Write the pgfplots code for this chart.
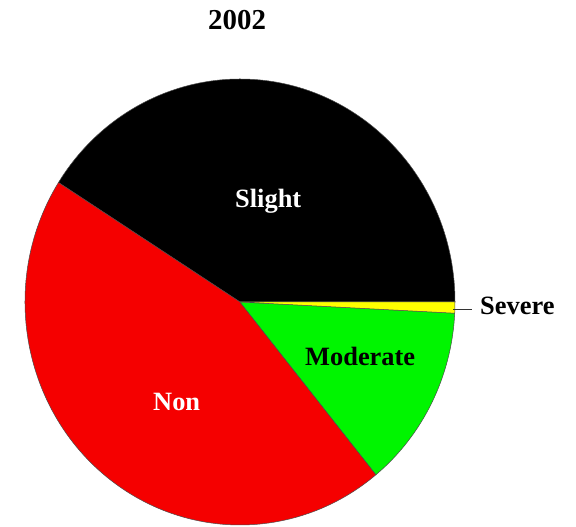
\documentclass[border=0pt]{standalone}
\usepackage{pgfplots}
\pgfplotsset{compat=1.18}
\usepackage{fontspec}
\setmainfont{Liberation Serif}
\definecolor{sl}{RGB}{0,0,0}
\definecolor{no}{RGB}{245,0,0}
\definecolor{mo}{RGB}{0,245,0}
\definecolor{se}{RGB}{255,255,0}
\begin{document}
\begin{tikzpicture}
% shares in percent, counter-clockwise from 3 o'clock
\pgfmathsetmacro\aA{0}
\pgfmathsetmacro\aB{\aA+41.0*3.6}% Slight
\pgfmathsetmacro\aC{\aB+44.9*3.6}% Non
\pgfmathsetmacro\aD{\aC+13.3*3.6}% Moderate
\pgfmathsetmacro\aE{\aD+0.8*3.6}% Severe
\begin{axis}[
    name=ax,
    width=576bp, height=527bp, scale only axis,
    xmin=0, xmax=576, ymin=0, ymax=527,
    hide axis, clip=false,
    ]
    \filldraw[fill=sl, draw=black!70, line width=0.5bp] (axis cs:240,225) -- ++(\aA:215bp and 223bp)
        arc[start angle=\aA, end angle=\aB, x radius=215bp, y radius=223bp] -- cycle;
    \filldraw[fill=no, draw=black!70, line width=0.5bp] (axis cs:240,225) -- ++(\aB:215bp and 223bp)
        arc[start angle=\aB, end angle=\aC, x radius=215bp, y radius=223bp] -- cycle;
    \filldraw[fill=mo, draw=black!70, line width=0.5bp] (axis cs:240,225) -- ++(\aC:215bp and 223bp)
        arc[start angle=\aC, end angle=\aD, x radius=215bp, y radius=223bp] -- cycle;
    \filldraw[fill=se, draw=black!70, line width=0.5bp] (axis cs:240,225) -- ++(\aD:215bp and 223bp)
        arc[start angle=\aD, end angle=\aE, x radius=215bp, y radius=223bp] -- cycle;
    \draw[black!80, line width=0.8bp] (axis cs:453,218) -- (axis cs:472,218);
    \node[anchor=base west, inner sep=0pt, font=\fontsize{29}{33}\selectfont\bfseries] at (axis cs:208,497) {2002};
    \node[anchor=base west, inner sep=0pt, white, font=\fontsize{26.5}{30}\selectfont\bfseries] at (axis cs:235,319) {Slight};
    \node[anchor=base west, inner sep=0pt, white, font=\fontsize{26.5}{30}\selectfont\bfseries] at (axis cs:153,116) {Non};
    \node[anchor=base west, inner sep=0pt, font=\fontsize{26.5}{30}\selectfont\bfseries] at (axis cs:305,161) {Moderate};
    \node[anchor=base west, inner sep=0pt, font=\fontsize{26.5}{30}\selectfont\bfseries] at (axis cs:480,212) {Severe};
\end{axis}
\pgfresetboundingbox
\path (ax.south west) rectangle (ax.north east);
\end{tikzpicture}
\end{document}
